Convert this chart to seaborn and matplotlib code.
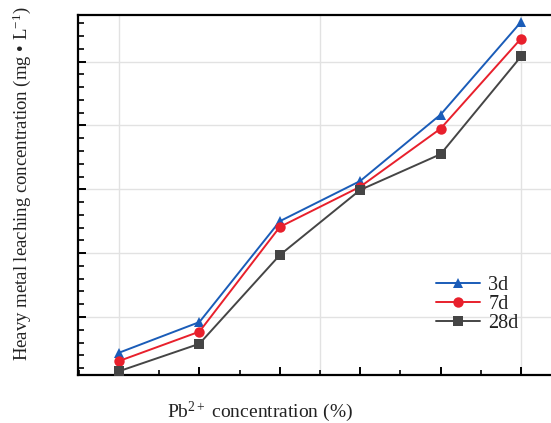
import numpy as np
import pandas as pd
import matplotlib
matplotlib.use("Agg")
import matplotlib.pyplot as plt
from matplotlib.ticker import MultipleLocator, NullFormatter
import seaborn as sns

# ---- data (arbitrary units) ----
pb_conc = [0.0, 0.2, 0.4, 0.6, 0.8, 1.0]
series_names = ["3d", "7d", "28d"]
leach_3d = [4.4, 9.2, 25.0, 31.3, 41.7, 56.2]
leach_7d = [3.1, 7.7, 24.1, 30.4, 39.5, 53.6]
leach_28d = [1.5, 5.8, 19.7, 29.9, 35.5, 50.8]
x_grid = [0.0, 0.5, 1.0]

colors = {"3d": "#1a5cb8", "7d": "#e8202c", "28d": "#454545"}
markers = {"3d": "^", "7d": "o", "28d": "s"}

df = pd.DataFrame({
    "x": pb_conc * 3,
    "y": leach_3d + leach_7d + leach_28d,
    "series": [s for s in series_names for _ in pb_conc],
})

sns.set_style("white")
plt.rcParams["font.family"] = ["Liberation Serif", "DejaVu Serif"]
plt.rcParams["mathtext.fontset"] = "custom"
plt.rcParams["mathtext.rm"] = "Liberation Serif"
plt.rcParams["mathtext.it"] = "Liberation Serif:italic"

fig = plt.figure(figsize=(5.51, 4.23), dpi=100)
ax = fig.add_axes([78 / 551, 48 / 423, (560 - 78) / 551, 360 / 423])

for gx in x_grid:
    ax.axvline(gx, color="#e2e2e2", lw=1.0, zorder=0)

sns.lineplot(
    data=df, x="x", y="y", hue="series", style="series",
    hue_order=series_names, style_order=series_names,
    palette=colors, markers=markers, dashes=False,
    markersize=7.5, markeredgewidth=0, linewidth=1.4, ax=ax, zorder=3,
)

ax.set_xlim(-0.102, 1.097)
ax.set_ylim(0.91, 57.3)

ax.xaxis.set_major_locator(MultipleLocator(0.2))
ax.xaxis.set_minor_locator(MultipleLocator(0.1))
ax.yaxis.set_major_locator(MultipleLocator(10))
ax.yaxis.set_minor_locator(MultipleLocator(2))
for axis in (ax.xaxis, ax.yaxis):
    axis.set_major_formatter(NullFormatter())
    axis.set_minor_formatter(NullFormatter())

ax.tick_params(which="major", direction="in", length=6, width=1.4, color="black",
               bottom=True, left=True, top=False, right=False)
ax.tick_params(which="minor", direction="in", length=3.5, width=1.2, color="black",
               bottom=True, left=True, top=False, right=False)
ax.tick_params(axis="y", which="major", length=6)
ax.tick_params(axis="y", which="minor", length=4)

ax.grid(False)
ax.yaxis.grid(True, which="major", color="#e2e2e2", lw=1.0)
ax.set_axisbelow(True)

for sp in ax.spines.values():
    sp.set_linewidth(1.6)
    sp.set_color("black")

ax.set_xlabel(r"Pb$^{2+}$ concentration (%)", fontsize=14, color="#222222")
ax.set_ylabel(r"Heavy metal leaching concentration (mg • L$^{-1}$)", fontsize=13.5,
              color="#222222")
ax.xaxis.set_label_coords(0.378, -0.068)
ax.yaxis.set_label_coords(-0.093, 0.53)

leg = ax.legend(loc="upper left", bbox_to_anchor=(0.743, 0.276), frameon=False,
                fontsize=14.5, borderpad=0, borderaxespad=0, handlelength=2.2,
                handletextpad=0.4, labelspacing=0.0)
for t in leg.get_texts():
    t.set_color("#222222")

fig.savefig("out.png", dpi=100)
